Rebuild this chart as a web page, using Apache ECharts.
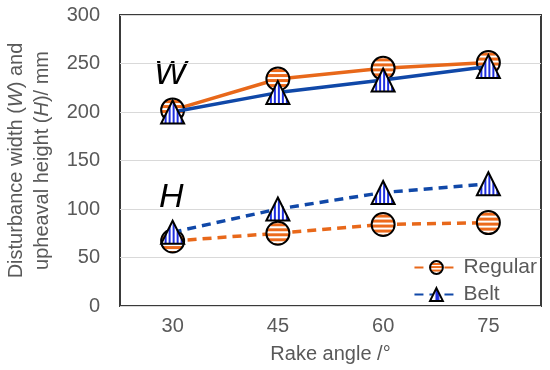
<!DOCTYPE html>
<html><head><meta charset="utf-8">
<script src="https://cdn.jsdelivr.net/npm/echarts@6/dist/echarts.min.js"></script>
<style>html,body{margin:0;padding:0;background:#fff}#c{width:550px;height:370px}</style>
</head><body><div id="c"></div>
<script>
const categories = ['30', '45', '60', '75'];
const regularW = [202, 234, 245, 251];
const beltW = [200, 220, 233, 247];
const regularH = [67, 75, 84, 86];
const beltH = [76, 100, 117, 126];
const yTicks = [0, 50, 100, 150, 200, 250, 300];

const ORANGE = '#E8681A';
const BLUE = '#1048A8';
const SYM = 23;

function stripes(color, horizontal, period, on) {
  const c = document.createElement('canvas');
  c.width = period; c.height = period;
  const g = c.getContext('2d');
  g.fillStyle = '#fff'; g.fillRect(0, 0, period, period);
  g.fillStyle = color;
  if (horizontal) g.fillRect(0, 0, period, on); else g.fillRect(0, 0, on, period);
  const k = 2 / SYM;
  return { image: c, repeat: 'repeat', scaleX: k, scaleY: k };
}
const orangeFill = stripes('#EC6A1C', true, 5, 3);
const blueFill = stripes('#1F2FE0', false, 4, 2);

function mk(name, data, color, fill, symbol, dashed, z) {
  return {
    name: name, type: 'line', data: data, z: z,
    symbol: symbol, symbolSize: SYM,
    lineStyle: { color: color, width: 3.5, type: dashed ? [9, 6] : 'solid' },
    itemStyle: { color: fill, borderColor: '#000', borderWidth: 2 },
    emphasis: { disabled: true },
    animation: false
  };
}

const FONT = 'Liberation Sans';
const chart = echarts.init(document.getElementById('c'));
chart.setOption({
  animation: false,
  grid: { left: 120, right: 9, top: 15, bottom: 64, show: true, borderColor: '#3a3a3a', borderWidth: 2, outerBoundsMode: 'none', containLabel: false },
  xAxis: {
    type: 'category', data: categories,
    axisLine: { show: false }, axisTick: { show: false },
    axisLabel: { color: '#595959', fontSize: 20, fontFamily: FONT, margin: 10 },
    name: 'Rake angle /°', nameLocation: 'middle', nameGap: 38,
    nameTextStyle: { color: '#595959', fontSize: 20, fontFamily: FONT }
  },
  yAxis: {
    type: 'value', min: yTicks[0], max: yTicks[yTicks.length - 1], interval: 50,
    axisLine: { show: false }, axisTick: { show: false },
    splitLine: { lineStyle: { color: '#D9D9D9', width: 1.2 } },
    axisLabel: { color: '#595959', fontSize: 20, fontFamily: FONT, margin: 20 },
    name: 'Disturbance width ({i|W}) and\nupheaval height ({i|H})/ mm',
    nameLocation: 'middle', nameGap: 65, nameRotate: 90,
    nameTextStyle: { color: '#595959', fontSize: 20, fontFamily: FONT, lineHeight: 26,
      rich: { i: { fontStyle: 'italic', color: '#595959', fontSize: 20, fontFamily: FONT, lineHeight: 26 } } }
  },
  legend: {
    data: ['Regular', 'Belt'], orient: 'vertical', right: 8, top: 252, itemGap: 6,
    itemWidth: 44, itemHeight: 16,
    textStyle: { color: '#595959', fontSize: 21, fontFamily: FONT }
  },
  graphic: [
    { type: 'text', left: 154, top: 58, style: { text: 'W', fontSize: 34, fontStyle: 'italic', fontFamily: FONT, fill: '#000' } },
    { type: 'text', left: 159, top: 181, style: { text: 'H', fontSize: 34, fontStyle: 'italic', fontFamily: FONT, fill: '#000' } }
  ],
  series: [
    mk('Regular', regularH, ORANGE, orangeFill, 'circle', true, 2),
    mk('Belt', beltH, BLUE, blueFill, 'triangle', true, 3),
    mk('Regular W', regularW, ORANGE, orangeFill, 'circle', false, 2),
    mk('Belt W', beltW, BLUE, blueFill, 'triangle', false, 3)
  ]
});
</script></body></html>
